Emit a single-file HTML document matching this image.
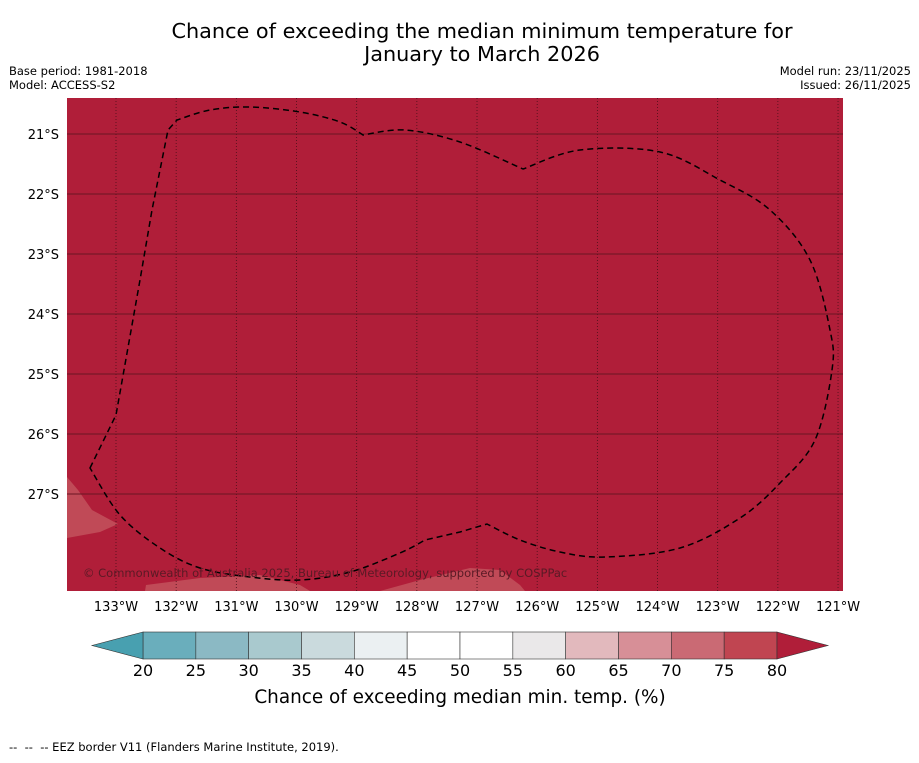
<!DOCTYPE html>
<html><head><meta charset="utf-8"><style>
body{margin:0;background:#fff;font-family:"Liberation Sans","DejaVu Sans",sans-serif;}
svg text{font-family:"DejaVu Sans","Liberation Sans",sans-serif;}
</style></head><body>
<svg width="919" height="758" viewBox="0 0 919 758">
<text x="482" y="38" font-size="20.8" text-anchor="middle">Chance of exceeding the median minimum temperature for</text>
<text x="482" y="61" font-size="20.8" text-anchor="middle">January to March 2026</text>
<text x="9" y="75" font-size="11.5">Base period: 1981-2018</text>
<text x="9" y="89" font-size="11.5">Model: ACCESS-S2</text>
<text x="911" y="75" font-size="11.5" text-anchor="end">Model run: 23/11/2025</text>
<text x="911" y="89" font-size="11.5" text-anchor="end">Issued: 26/11/2025</text>
<g>
<rect x="67" y="98" width="776" height="493" fill="#b01e39"/>
<polygon points="67,477 78,490 92,510 118,524 100,532 67,538" fill="#c04a57"/>
<polygon points="145,591 146,585 200,578 260,575 300,585 310,591" fill="#c04a57"/>
<polygon points="380,591 420,580 470,568 500,570 520,585 525,591" fill="#c04a57"/>
<g id="grid"></g>
<path id="eez" d="" fill="none" stroke="#000" stroke-width="1.5" stroke-dasharray="6,4"/>
<text x="83" y="577" font-size="11.5" fill="#5a1a25">© Commonwealth of Australia 2025, Bureau of Meteorology, supported by COSPPac</text>
</g>
<g id="axes"></g>
<g id="cbar"></g>
<text x="460" y="703" font-size="18.4" text-anchor="middle">Chance of exceeding median min. temp. (%)</text>
<text x="9" y="751" font-size="11.5" xml:space="preserve" style="white-space:pre">--  --  -- EEZ border V11 (Flanders Marine Institute, 2019).</text>
</svg>
<script>
const lonTicks=[133,132,131,130,129,128,127,126,125,124,123,122,121];
const latTicks=[21,22,23,24,25,26,27];
const cbLevels=[20,25,30,35,40,45,50,55,60,65,70,75,80];
const cbColors=["#6aaebc","#8bb9c4","#a9c9ce","#cadadd","#ebf0f2","#ffffff","#ffffff","#eae8e9","#e2b9bd","#d78f97","#ca6a74","#c04551"];
const NS="http://www.w3.org/2000/svg";
const xLon=l=>116+(133-l)*60.17;
const yLat=l=>134+(l-21)*60;
const xCb=v=>143+(v-20)*(634/60);
function mk(t,a,p){const e=document.createElementNS(NS,t);for(const k in a)e.setAttribute(k,a[k]);p.appendChild(e);return e;}
// EEZ outline: corners kept sharp, arcs smoothed
const segs=[
 ["L",[[90,468],[116,415],[140,280],[152,210],[168,130],[177,120]]],
 ["C",[[177,120],[210,110],[250,107],[300,112],[340,122],[363,135]]],
 ["C",[[363,135],[405,130],[460,142],[523,169]]],
 ["C",[[523,169],[580,150],[660,152],[720,180],[770,210],[810,260],[830,330],[832,370],[815,440],[780,483],[740,518],[680,548],[605,557],[560,552],[520,540],[487,524]]],
 ["L",[[487,524],[460,532],[425,540]]],
 ["C",[[425,540],[400,553],[350,572],[300,580],[250,577],[200,568],[160,548],[120,515],[90,468]]]
];
function cr(pts){let d="";for(let i=0;i<pts.length-1;i++){const p0=pts[i-1]||pts[i],p1=pts[i],p2=pts[i+1],p3=pts[i+2]||p2;
 d+=` C${p1[0]+(p2[0]-p0[0])/6},${p1[1]+(p2[1]-p0[1])/6} ${p2[0]-(p3[0]-p1[0])/6},${p2[1]-(p3[1]-p1[1])/6} ${p2[0]},${p2[1]}`;}return d;}
let d="M90,468";
segs.forEach(([t,p])=>{if(t==="L")p.slice(1).forEach(q=>d+=` L${q[0]},${q[1]}`);else d+=cr(p);});
document.getElementById('eez').setAttribute('d',d+" Z");
const grid=document.getElementById('grid'),axes=document.getElementById('axes'),cb=document.getElementById('cbar');
lonTicks.forEach(l=>{const x=xLon(l);
 const ln=mk('line',{x1:x,x2:x,y1:98,y2:591,stroke:'#4a1019','stroke-width':0.8,'stroke-dasharray':'1,2'},grid);
 
 
 const t=mk('text',{x:x,y:611,'font-size':13,'text-anchor':'middle'},axes);t.textContent=l+'°W';
 
 
});
latTicks.forEach(l=>{const y=yLat(l);
 const ln=mk('line',{x1:67,x2:843,y1:y,y2:y,stroke:'#6a1523','stroke-width':1},grid);
 
 
 const t=mk('text',{x:59,y:y+5,'font-size':13,'text-anchor':'end'},axes);t.textContent=l+'°S';
 
 
});
cbColors.forEach((c,i)=>{const x0=xCb(cbLevels[i]),x1=xCb(cbLevels[i+1]);
 const r=mk('rect',{x:x0,y:632,width:x1-x0,height:27,fill:c,stroke:'#333','stroke-width':0.6},cb);
 
 
});
const tl=mk('polygon',{points:`${xCb(20)},632 92,645.5 ${xCb(20)},659`,fill:'#48a0b0',stroke:'#333','stroke-width':0.6},cb);


const tr=mk('polygon',{points:`${xCb(80)},632 828,645.5 ${xCb(80)},659`,fill:'#b01e39',stroke:'#333','stroke-width':0.6},cb);


cbLevels.forEach(v=>{const t=mk('text',{x:xCb(v),y:676,'font-size':16,'text-anchor':'middle'},cb);t.textContent=v;
 
 
});
</script>
</body></html>
